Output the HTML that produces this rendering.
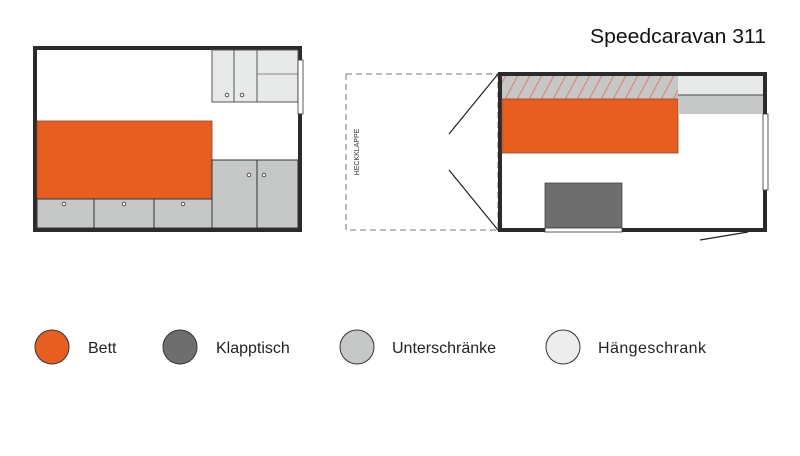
<!DOCTYPE html>
<html><head><style>
body{margin:0;background:#fff;}
svg{display:block;font-family:"Liberation Sans",sans-serif;}
</style></head><body>
<svg width="800" height="456" viewBox="0 0 800 456">
<defs>
<pattern id="h" width="12" height="30" patternUnits="userSpaceOnUse" patternTransform="skewX(-28)">
<line x1="6" y1="0" x2="6" y2="30" stroke="#e7603a" stroke-width="0.8"/>
</pattern>
</defs>
<rect width="800" height="456" fill="#fff"/>
<text x="590" y="43" font-size="20" fill="#111" textLength="176" lengthAdjust="spacingAndGlyphs">Speedcaravan 311</text>

<!-- Left plan -->
<rect x="35" y="48" width="265" height="182" fill="#fff" stroke="#2b2b2b" stroke-width="4"/>
<rect x="212" y="50" width="86" height="52" fill="#e8e9e9" stroke="#555" stroke-width="1"/>
<line x1="234" y1="50" x2="234" y2="102" stroke="#555"/>
<line x1="257" y1="50" x2="257" y2="102" stroke="#555"/>
<line x1="257" y1="74" x2="298" y2="74" stroke="#888"/>
<circle cx="227" cy="95" r="1.8" fill="#fff" stroke="#333" stroke-width="0.8"/>
<circle cx="242" cy="95" r="1.8" fill="#fff" stroke="#333" stroke-width="0.8"/>
<rect x="298" y="60" width="5" height="54" fill="#fff" stroke="#333" stroke-width="0.8"/>
<rect x="37" y="121" width="175" height="78" fill="#e85e20" stroke="#8a4a2a" stroke-width="0.8"/>
<rect x="37" y="199" width="175" height="29" fill="#c6c7c7" stroke="#333" stroke-width="1"/>
<line x1="94" y1="199" x2="94" y2="228" stroke="#333"/>
<line x1="154" y1="199" x2="154" y2="228" stroke="#333"/>
<circle cx="64" cy="204" r="1.8" fill="#fff" stroke="#333" stroke-width="0.8"/>
<circle cx="124" cy="204" r="1.8" fill="#fff" stroke="#333" stroke-width="0.8"/>
<circle cx="183" cy="204" r="1.8" fill="#fff" stroke="#333" stroke-width="0.8"/>
<rect x="212" y="160" width="86" height="68" fill="#c6c7c7" stroke="#333" stroke-width="1"/>
<line x1="257" y1="160" x2="257" y2="228" stroke="#333"/>
<circle cx="249" cy="175" r="1.8" fill="#fff" stroke="#333" stroke-width="0.8"/>
<circle cx="264" cy="175" r="1.8" fill="#fff" stroke="#333" stroke-width="0.8"/>

<!-- Right plan -->
<rect x="346" y="74" width="152" height="156" fill="none" stroke="#777" stroke-width="1" stroke-dasharray="6,4"/>
<text transform="translate(359,152) rotate(-90)" font-size="7" text-anchor="middle" fill="#333">HECKKLAPPE</text>
<line x1="498" y1="74" x2="449" y2="134" stroke="#222" stroke-width="1.2"/>
<line x1="449" y1="170" x2="498" y2="230" stroke="#222" stroke-width="1.2"/>
<line x1="700" y1="240" x2="748" y2="232" stroke="#222" stroke-width="1.2"/>
<rect x="500" y="74" width="265" height="156" fill="#fff" stroke="#2b2b2b" stroke-width="4"/>
<rect x="502" y="76" width="176" height="23" fill="#c6c7c7"/>
<rect x="502" y="76" width="176" height="23" fill="url(#h)"/>
<rect x="502" y="99" width="176" height="54" fill="#e85e20" stroke="#8a4a2a" stroke-width="0.8"/>
<rect x="678" y="76" width="85" height="19" fill="#e8e9e9"/>
<rect x="678" y="95" width="85" height="19" fill="#c6c7c7"/>
<line x1="678" y1="95" x2="763" y2="95" stroke="#444"/>
<rect x="763" y="114" width="5" height="76" fill="#fff" stroke="#333" stroke-width="0.8"/>
<rect x="545" y="183" width="77" height="45" fill="#6e6e6e" stroke="#444" stroke-width="0.8"/>
<rect x="545" y="228" width="77" height="4" fill="#fff" stroke="#333" stroke-width="0.8"/>

<!-- Legend -->
<circle cx="52" cy="347" r="17" fill="#e85e20" stroke="#333" stroke-width="1"/>
<text x="88" y="353" font-size="16" fill="#222">Bett</text>
<circle cx="180" cy="347" r="17" fill="#6e6e6e" stroke="#333" stroke-width="1"/>
<text x="216" y="353" font-size="16" fill="#222">Klapptisch</text>
<circle cx="357" cy="347" r="17" fill="#c6c7c7" stroke="#333" stroke-width="1"/>
<text x="392" y="353" font-size="16" fill="#222">Unterschränke</text>
<circle cx="563" cy="347" r="17" fill="#ededed" stroke="#333" stroke-width="1"/>
<text x="598" y="353" font-size="16" fill="#222" textLength="108">Hängeschrank</text>
</svg>
</body></html>
